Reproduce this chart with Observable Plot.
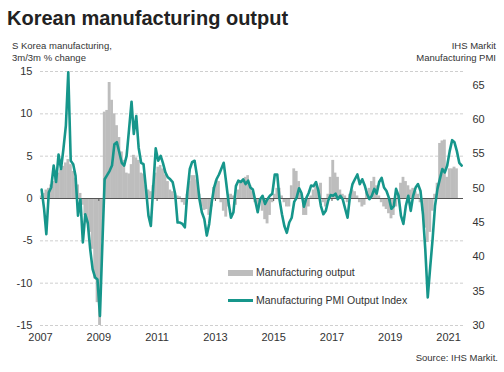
<!DOCTYPE html>
<html><head><meta charset="utf-8">
<script src="https://cdn.jsdelivr.net/npm/d3@7"></script>
<script src="https://cdn.jsdelivr.net/npm/@observablehq/plot@0.6"></script>
<style>
body{margin:0;background:#fff;}
#wrap{position:relative;width:504px;height:372px;font-family:"Liberation Sans",Arial,sans-serif;color:#333;overflow:hidden;background:#fff}
#wrap svg{position:absolute;left:0;top:0;background:transparent}
.abs{position:absolute;white-space:nowrap;line-height:1}
#title{left:7px;top:8px;font-size:20px;font-weight:bold;color:#222}
.sub{font-size:9.5px;color:#333;line-height:11.5px}
#subL{left:12px;top:40px}
#subR{right:8px;top:40px;text-align:right}
#source{right:6px;top:353px;font-size:9.5px;color:#333}
.leg{font-size:10.5px;color:#333}
</style>
</head><body>
<div id="wrap">
  <div id="chart"></div>
  <div class="abs" id="title">Korean manufacturing output</div>
  <div class="abs sub" id="subL">S Korea manufacturing,<br>3m/3m % change</div>
  <div class="abs sub" id="subR">IHS Markit<br>Manufacturing PMI</div>
  <div class="abs" style="left:228px;top:270px;width:25px;height:6px;background:#bdbdbd"></div>
  <div class="abs leg" style="left:256px;top:267px">Manufacturing output</div>
  <div class="abs" style="left:228px;top:299px;width:25px;height:2.5px;background:#16968b"></div>
  <div class="abs leg" style="left:256px;top:295px">Manufacturing PMI Output Index</div>
  <div class="abs" id="source">Source: IHS Markit.</div>
</div>
<script>
// ---- data (monthly, starting January 2007) ----
const startYear = 2007;
const startMonth = 0;
const outputChange = [
  0.3, 0.6, 1.0, 1.2, 1.6, 2.0, 2.4, 3.0, 3.4, 3.8,
  4.2, 4.6, 4.0, 3.2, 2.4, 1.6, 0.6, -0.8, -2.0, -3.0,
  -4.0, -6.0, -9.5, -12.3, -15.0, -5.0, 10.2, 10.4, 13.7, 11.6,
  10.0, 8.6, 7.2, 5.5, 4.5, 3.0, 2.9, 4.0, 5.1, 4.8,
  4.5, 3.0, 2.9, 1.5, 1.0, 0.8, 1.5, 3.0, 3.7, 3.9,
  3.5, 2.8, 2.0, 1.0, 0.8, 0.5, 0.3, 0.2, -0.5, -0.8,
  0.5, 2.0, 2.7, 2.7, 2.2, 0.5, -1.0, -1.4, -1.3, -2.0,
  -1.0, 1.3, 2.1, 2.0, -0.5, -1.5, -2.2, -1.0, 0.5, 0.3,
  -0.8, 1.0, 1.8, 2.0, 2.5, 2.7, 1.5, 0.8, -0.5, -1.0,
  -0.5, -1.5, -2.5, -3.0, -2.0, -0.5, 0.5, 1.2, 1.2, 0.3,
  -0.5, -1.0, -1.0, 1.5, 3.5, 3.2, 2.0, 0.5, -2.0, -2.0,
  -1.0, 0.3, 1.0, 1.5, 1.0, 1.8, -0.5, -1.0, 0.5, 2.5,
  4.5, 3.0, 2.5, 1.0, 0.5, 0.3, -0.5, 0.5, 1.0, 0.8,
  0.3, -0.5, -1.0, -0.8, 0.8, 1.2, 2.0, 2.5, 1.5, 0.3,
  -0.5, -1.0, -1.3, -1.8, -2.4, -2.0, -1.0, 0.5, 1.8, 2.5,
  2.0, 1.5, 1.0, 1.2, 0.8, 0.5, -0.5, -1.5, -3.5, -5.2,
  -4.0, -1.5, 0.5, 1.8, 6.5, 6.8, 6.9, 2.5, 3.5, 3.5,
  3.7, 3.5
];
const pmiOutput = [
  49.8, 47.0, 43.3, 49.4, 50.1, 53.3, 50.9, 54.9, 52.8, 55.7,
  59.1, 66.9, 54.0, 53.5, 51.8, 46.0, 48.4, 42.1, 46.2, 45.0,
  41.1, 38.2, 37.0, 36.7, 31.4, 42.1, 51.3, 51.9, 52.5, 53.3,
  56.4, 56.7, 55.2, 53.7, 53.3, 54.7, 58.6, 62.6, 57.9, 60.5,
  55.9, 53.7, 53.5, 49.9, 46.0, 44.5, 50.4, 55.8, 54.0, 54.7,
  53.7, 52.3, 51.6, 51.3, 50.9, 49.2, 45.0, 45.0, 44.8, 44.3,
  49.4, 52.8, 53.8, 54.0, 51.8, 48.4, 46.5, 45.5, 43.1, 44.8,
  47.9, 50.1, 51.3, 52.0, 52.8, 53.7, 50.9, 47.9, 45.7, 46.5,
  50.3, 51.1, 50.9, 51.3, 50.6, 51.1, 50.1, 49.8, 48.2, 46.5,
  48.4, 48.9, 47.7, 48.4, 48.9, 49.2, 52.0, 52.0, 48.4, 46.2,
  44.5, 43.5, 45.0, 45.7, 48.0, 48.6, 50.0, 49.3, 47.3, 48.6,
  49.3, 50.4, 50.3, 50.9, 49.6, 47.4, 46.2, 46.7, 48.2, 49.0,
  48.9, 49.2, 48.4, 48.9, 48.4, 47.0, 45.7, 48.9, 50.6, 51.3,
  52.0, 50.6, 51.3, 50.4, 49.2, 48.4, 48.9, 49.9, 49.2, 50.9,
  51.5, 50.1, 49.6, 48.6, 47.0, 47.4, 49.9, 48.9, 46.0, 44.8,
  47.4, 48.9, 46.7, 48.9, 50.1, 50.6, 49.6, 46.2, 41.1, 34.1,
  38.4, 42.6, 47.4, 49.9, 51.4, 52.8, 52.3, 53.3, 55.4, 57.0,
  56.7, 55.4, 53.7, 53.3
];
const yearTicks = [2007, 2009, 2011, 2013, 2015, 2017, 2019, 2021];
const leftTicks = [-15, -10, -5, 0, 5, 10, 15];
const rightTicks = [30, 35, 40, 45, 50, 55, 60, 65];

// ---- derived tables ----
const monthDate = (k, day) => new Date(Date.UTC(startYear, startMonth + k, day));
const barData = outputChange.map((v, k) => ({start: monthDate(k, 1), end: monthDate(k + 1, 1), value: v}));
const pmiData = pmiOutput.map((v, k) => ({date: monthDate(k, 15), value: v}));
const tickDates = yearTicks.map(y => new Date(Date.UTC(y, 0, 1)));
const xDomain = [new Date(Date.UTC(2007, 0, 1)), new Date(Date.UTC(2021, 6, 7))];

const font = '"Liberation Sans", Arial, sans-serif';
const common = {
  width: 504, height: 372,
  marginTop: 71, marginBottom: 47, marginLeft: 40, marginRight: 41,
  style: {fontFamily: font, fontSize: "11px", color: "#333", background: "transparent", overflow: "visible"}
};

const bars = Plot.plot({
  ...common,
  x: {type: "utc", domain: xDomain},
  y: {domain: [-15, 15]},
  marks: [
    Plot.ruleY(leftTicks.filter(d => d !== 0), {stroke: "#cfcfcf", strokeDasharray: "3,2"}),
    Plot.rectY(barData, {x1: "start", x2: "end", y: "value", fill: "#bdbdbd", insetLeft: -0.2, insetRight: -0.2}),
    Plot.ruleY([0], {stroke: "#555", strokeWidth: 1}),
    Plot.ruleX(tickDates.slice(1, -1), {x: d => d, y1: 0, y2: -0.35, stroke: "#555"}),
    Plot.axisY(leftTicks, {anchor: "left", tickSize: 0, tickPadding: 8, label: null, tickFormat: d => String(d), fontSize: 11}),
    Plot.axisX(tickDates, {anchor: "bottom", tickSize: 0, tickPadding: 8, label: null, tickFormat: d3.utcFormat("%Y"), fontSize: 11})
  ]
});

const line = Plot.plot({
  ...common,
  x: {type: "utc", domain: xDomain, axis: null},
  y: {domain: [30, 67]},
  marks: [
    Plot.lineY(pmiData, {x: "date", y: "value", stroke: "#16968b", strokeWidth: 2.6, strokeLinejoin: "round"}),
    Plot.axisY(rightTicks, {anchor: "right", tickSize: 0, tickPadding: 9, label: null, fontSize: 11})
  ]
});

const chart = document.getElementById("chart");
chart.appendChild(bars);
chart.appendChild(line);
</script>
</body></html>
